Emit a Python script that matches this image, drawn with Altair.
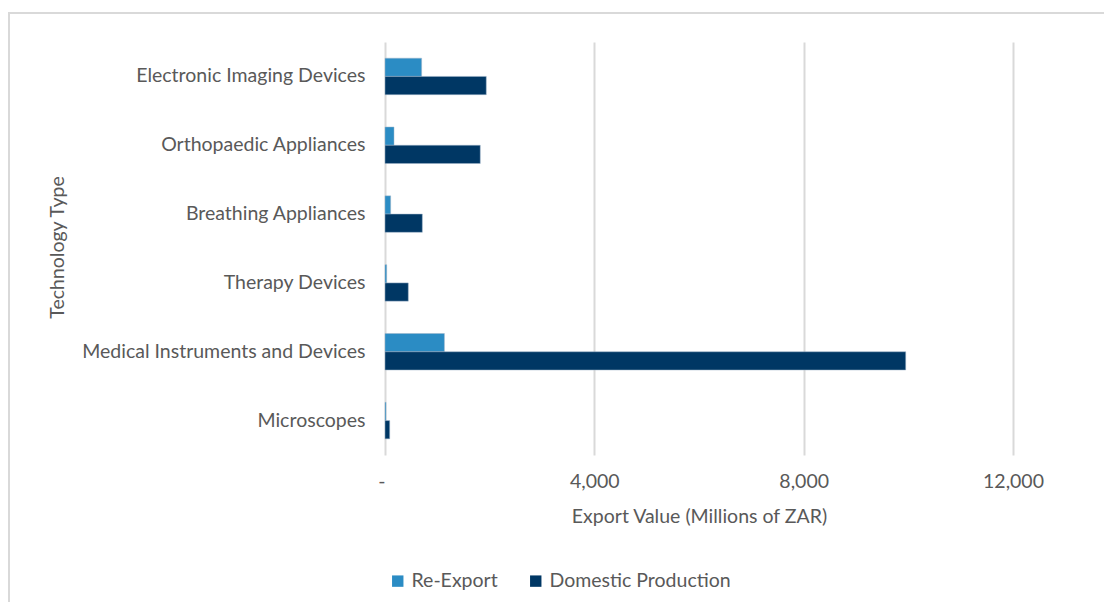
import altair as alt
import pandas as pd

categories = [
    "Electronic Imaging Devices",
    "Orthopaedic Appliances",
    "Breathing Appliances",
    "Therapy Devices",
    "Medical Instruments and Devices",
    "Microscopes",
]
series = ["Re-Export", "Domestic Production"]
re_export = [700, 172, 108, 32, 1135, 20]
domestic = [1935, 1820, 713, 445, 9950, 90]
x_ticks = [0, 4000, 8000, 12000]
colors = ["#2B8CC4", "#003764"]

rows = []
for c, r, d in zip(categories, re_export, domestic):
    rows.append({"Technology": c, "Series": series[0], "Value": r})
    rows.append({"Technology": c, "Series": series[1], "Value": d})
df = pd.DataFrame(rows)

FONT = "Lato"
FS = 19.5
GREY = "#595959"
LINE = "#D9D9D9"

bars = alt.Chart(df).mark_bar(stroke="#9fb4c8", strokeWidth=0.5).encode(
    y=alt.Y(
        "Technology:N",
        sort=categories,
        scale=alt.Scale(paddingInner=0.47, paddingOuter=0.235),
        axis=alt.Axis(
            title="Technology Type",
            titleFont=FONT,
            titleFontSize=FS,
            titleFontWeight="normal",
            titleColor=GREY,
            titleX=-328,
            titleY=205,
            titleAngle=270,
            titleAlign="center",
            titleBaseline="middle",
            labelFont=FONT,
            labelFontSize=FS,
            labelColor=GREY,
            labelPadding=20,
            labelLimit=500,
            ticks=False,
            domain=False,
        ),
    ),
    yOffset=alt.YOffset("Series:N", sort=series),
    x=alt.X(
        "Value:Q",
        scale=alt.Scale(domain=[0, 12000], nice=False),
        axis=alt.Axis(
            title="Export Value (Millions of ZAR)",
            values=x_ticks,
            labelExpr="datum.value == 0 ? '-' : format(datum.value, ',')",
            labelAlign={"condition": {"test": "datum.value == 0", "value": "right"}, "value": "center"},
            titleFont=FONT,
            titleFontSize=FS,
            titleFontWeight="normal",
            titleColor=GREY,
            titlePadding=17,
            labelFont=FONT,
            labelFontSize=FS,
            labelColor=GREY,
            labelPadding=17,
            ticks=False,
            domain=False,
            grid=True,
            gridColor=LINE,
            gridWidth=2,
        ),
    ),
    color=alt.Color(
        "Series:N",
        sort=series,
        scale=alt.Scale(domain=series, range=colors),
        legend=alt.Legend(
            title=None,
            orient="none",
            direction="horizontal",
            legendX=3,
            legendY=529,
            symbolType="square",
            symbolSize=130,
            symbolStrokeWidth=0,
            labelFont=FONT,
            labelFontSize=FS,
            labelColor=GREY,
            labelLimit=400,
            columnPadding=28,
        ),
    ),
)

border_df = pd.DataFrame({"k": [0]})
top_line = alt.Chart(border_df).mark_rule(color=LINE, strokeWidth=2).encode(
    x=alt.value(-377), x2=alt.value(760), y=alt.value(-29)
)
left_line = alt.Chart(border_df).mark_rule(color=LINE, strokeWidth=2).encode(
    x=alt.value(-376), y=alt.value(-30), y2=alt.value(600)
)

chart = alt.layer(bars, top_line, left_line).properties(
    width=628,
    height=413,
    padding={"left": 377, "top": 34, "right": 91, "bottom": 147},
    autosize=alt.AutoSizeParams(type="none"),
    background="white",
).configure_view(stroke=None)

chart.save("out.html", embed_options={"renderer": "svg", "actions": False})
